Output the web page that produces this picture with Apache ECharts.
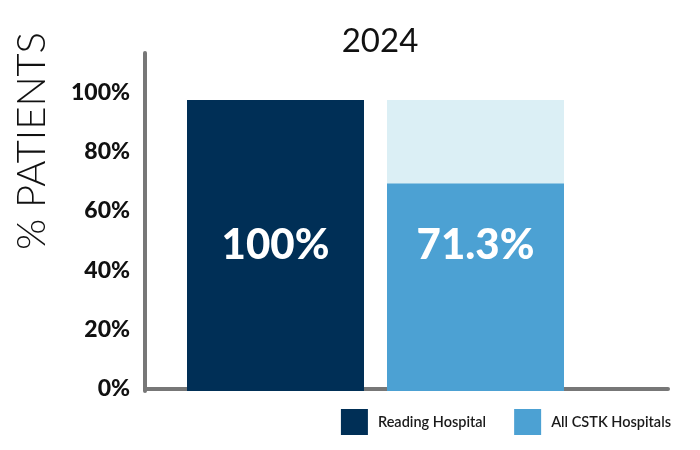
<!DOCTYPE html>
<html>
<head>
<meta charset="utf-8">
<script src="https://cdn.jsdelivr.net/npm/echarts@6/dist/echarts.min.js"></script>
<style>html,body{margin:0;padding:0;background:#fff}#c{width:700px;height:450px}</style>
</head>
<body>
<div id="c"></div>
<script>
var title = '2024';
var yName = '% PATIENTS';
var categories = ['Reading Hospital', 'All CSTK Hospitals'];
var readingValues = [100, '-'];
var cstkValues = ['-', 71.3];
var cstkBackground = ['-', 100];
var yTicks = [0, 20, 40, 60, 80, 100];

var FONT = 'Lato';
var chart = echarts.init(document.getElementById('c'));
var barLabel = { show: true, position: 'inside', fontFamily: FONT, fontSize: 42, fontWeight: 900, color: '#fff' };
chart.setOption({
  animation: false,
  title: {
    text: title, left: 375, textAlign: 'center', top: 20,
    textStyle: { fontFamily: FONT, fontSize: 33, fontWeight: 'normal', color: '#111' }
  },
  legend: {
    data: categories, right: 24, top: 404, itemWidth: 27, itemHeight: 26, itemGap: 28,
    icon: 'rect',
    textStyle: { fontFamily: FONT, fontSize: 14.5, fontWeight: 600, color: '#1a1a1a', padding: [0, 0, 0, 5] }
  },
  graphic: [{
    type: 'text', x: 32, y: 141, rotation: Math.PI / 2,
    style: { text: yName, fontFamily: FONT, fontSize: 40, fontWeight: 300, fill: '#111',
      textAlign: 'center', textVerticalAlign: 'middle' }
  }],
  grid: [
    { left: 145, right: 32, top: 53, bottom: 59 },
    { left: 175.5, right: 124.5, top: 53, bottom: 59 }
  ],
  xAxis: [
    { type: 'category', gridIndex: 0, data: [''], offset: 2,
      axisLine: { lineStyle: { color: '#777', width: 4 } }, axisTick: { show: false }, axisLabel: { show: false } },
    { type: 'category', gridIndex: 1, data: categories, show: false }
  ],
  yAxis: [
    { type: 'value', gridIndex: 0, min: -0.675, max: 113.3,
      axisLine: { show: true, lineStyle: { color: '#777', width: 4 } }, axisTick: { show: false },
      splitLine: { show: false },
      axisLabel: {
        customValues: yTicks,
        margin: 15, fontFamily: FONT, fontSize: 23, fontWeight: 900, color: '#111',
        formatter: function (v) { return v + '%'; }
      } },
    { type: 'value', gridIndex: 1, min: 0, max: 116.15, show: false, splitLine: { show: false } }
  ],
  series: [
    { name: 'bg', type: 'bar', xAxisIndex: 1, yAxisIndex: 1, data: cstkBackground, barWidth: 177, barGap: '-100%',
      itemStyle: { color: '#dbeff5' }, z: 1, silent: true },
    { name: categories[0], type: 'bar', xAxisIndex: 1, yAxisIndex: 1, data: readingValues, barWidth: 177, barGap: '-100%',
      itemStyle: { color: '#002f56' }, z: 2,
      label: Object.assign({}, barLabel, { formatter: function (p) { return p.value + '%'; } }) },
    { name: categories[1], type: 'bar', xAxisIndex: 1, yAxisIndex: 1, data: cstkValues, barWidth: 177, barGap: '-100%',
      itemStyle: { color: '#4ca1d3' }, z: 2 },
    { name: 'labelCarrier', type: 'bar', xAxisIndex: 1, yAxisIndex: 1, data: cstkBackground, barWidth: 177, barGap: '-100%',
      itemStyle: { color: 'rgba(0,0,0,0)' }, z: 3, silent: true,
      label: Object.assign({}, barLabel, { formatter: function (p) { return cstkValues[p.dataIndex] + '%'; } }) }
  ]
});
</script>
</body>
</html>
